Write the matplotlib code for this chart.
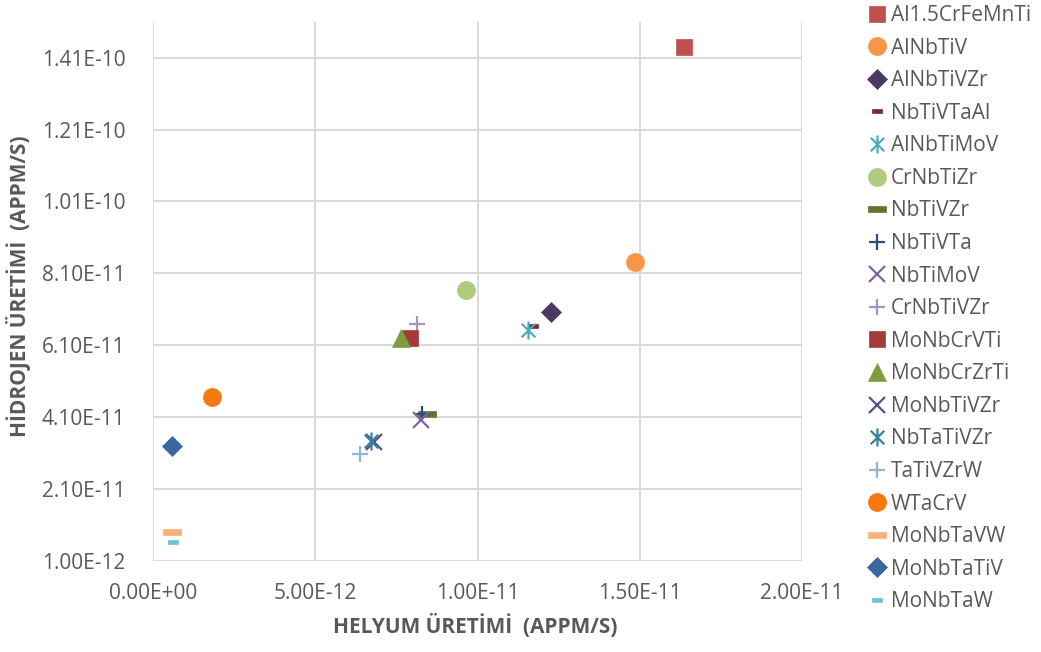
import matplotlib
matplotlib.use("Agg")
import matplotlib.pyplot as plt
from matplotlib.path import Path
from matplotlib.ticker import FuncFormatter

# alloy names in legend order
alloys = [
    "Al1.5CrFeMnTi", "AlNbTiV", "AlNbTiVZr", "NbTiVTaAl", "AlNbTiMoV",
    "CrNbTiZr", "NbTiVZr", "NbTiVTa", "NbTiMoV", "CrNbTiVZr",
    "MoNbCrVTi", "MoNbCrZrTi", "MoNbTiVZr", "NbTaTiVZr", "TaTiVZrW",
    "WTaCrV", "MoNbTaVW", "MoNbTaTiV", "MoNbTaW",
]
# helium production (appm/s)
helium = [
    1.636e-11, 1.485e-11, 1.227e-11, 1.171e-11, 1.156e-11,
    9.64e-12, 8.43e-12, 8.28e-12, 8.26e-12, 8.13e-12,
    7.92e-12, 7.65e-12, 6.81e-12, 6.72e-12, 6.38e-12,
    1.82e-12, 5.9e-13, 5.9e-13, 6.3e-13,
]
# hydrogen production (appm/s)
hydrogen = [
    1.440e-10, 8.41e-11, 7.02e-11, 6.63e-11, 6.52e-11,
    7.65e-11, 4.20e-11, 4.20e-11, 4.02e-11, 6.70e-11,
    6.31e-11, 6.29e-11, 3.40e-11, 3.43e-11, 3.07e-11,
    4.66e-11, 9.0e-12, 3.31e-11, 6.3e-12,
]

xticks = [0, 5e-12, 1e-11, 1.5e-11, 2e-11]
yticks = [1e-12, 2.1e-11, 4.1e-11, 6.1e-11, 8.1e-11, 1.01e-10, 1.21e-10, 1.41e-10]

# custom markers
dash_wide = [(-1, -0.28), (1, -0.28), (1, 0.28), (-1, 0.28), (-1, -0.28)]
dash_small = [(-1, -0.45), (1, -0.45), (1, 0.45), (-1, 0.45), (-1, -0.45)]
star = Path(
    [(0, -1), (0, 1), (-0.75, -0.75), (0.75, 0.75), (-0.75, 0.75), (0.75, -0.75)],
    [Path.MOVETO, Path.LINETO, Path.MOVETO, Path.LINETO, Path.MOVETO, Path.LINETO],
)

# (marker, colour, size, filled)
styles = [
    ("s", "#C0504D", 12, True),
    ("o", "#F79646", 13, True),
    ("D", "#4A3A63", 10, True),
    (dash_small, "#772C2A", 7, True),
    (star, "#4BACC6", 13, False),
    ("o", "#B0CB7D", 13, True),
    (dash_wide, "#5F7530", 13, True),
    ("+", "#2C4D75", 12, False),
    ("x", "#8064A2", 12, False),
    ("+", "#A692C4", 12, False),
    ("s", "#A33B38", 12, True),
    ("^", "#7E9D3F", 13, True),
    ("x", "#5F4B8B", 12, False),
    (star, "#31859C", 13, False),
    ("+", "#95B3D7", 12, False),
    ("o", "#F6780F", 13, True),
    (dash_wide, "#FAB07A", 13, True),
    ("D", "#3A679E", 10, True),
    (dash_small, "#6EC3D9", 7, True),
]

grey = "#595959"
font = ["Open Sans", "DejaVu Sans"]

fig = plt.figure(figsize=(10.41, 6.52), dpi=100)
ax = fig.add_axes([0.147, 0.1396, 0.6234, 0.8271])

for name, x, y, (m, c, s, filled) in zip(alloys, helium, hydrogen, styles):
    if filled:
        ax.plot([x], [y], linestyle="none", marker=m, markersize=s,
                markerfacecolor=c, markeredgecolor=c, markeredgewidth=0.5,
                label=name, zorder=3)
    else:
        ax.plot([x], [y], linestyle="none", marker=m, markersize=s,
                markeredgecolor=c, markeredgewidth=1.6, color=c,
                label=name, zorder=3)

ax.set_xlim(0, 2e-11)
ax.set_ylim(1e-12, 1.51e-10)
ax.set_xticks(xticks)
ax.set_yticks(yticks)
ax.xaxis.set_major_formatter(FuncFormatter(lambda v, p: f"{v:.2E}"))
ax.yaxis.set_major_formatter(FuncFormatter(lambda v, p: f"{v:.2E}"))
ax.grid(True, color="#D9D9D9", linewidth=1.4)
ax.set_axisbelow(True)
for sp in ax.spines.values():
    sp.set_visible(False)
ax.tick_params(length=0, colors=grey, labelsize=15)
ax.tick_params(axis="y", pad=20)
ax.tick_params(axis="x", pad=16)
for lab in ax.get_xticklabels() + ax.get_yticklabels():
    lab.set_family(font)

fig.text(0.457, 0.040, "HELYUM ÜRETİMİ  (APPM/S)", ha="center", va="center",
         fontsize=15, fontweight="bold", color=grey, family=font)
fig.text(0.018, 0.561, "HİDROJEN ÜRETİMİ  (APPM/S)", ha="center", va="center",
         rotation=90, fontsize=15, fontweight="bold", color=grey, family=font)

leg = fig.legend(loc="upper left", bbox_to_anchor=(0.826, 1.005), frameon=False,
                 handletextpad=0.25, labelspacing=0.555, handlelength=0.85,
                 borderaxespad=0, prop={"family": font, "size": 15})
for t in leg.get_texts():
    t.set_color(grey)

fig.savefig("out.png", dpi=100)
